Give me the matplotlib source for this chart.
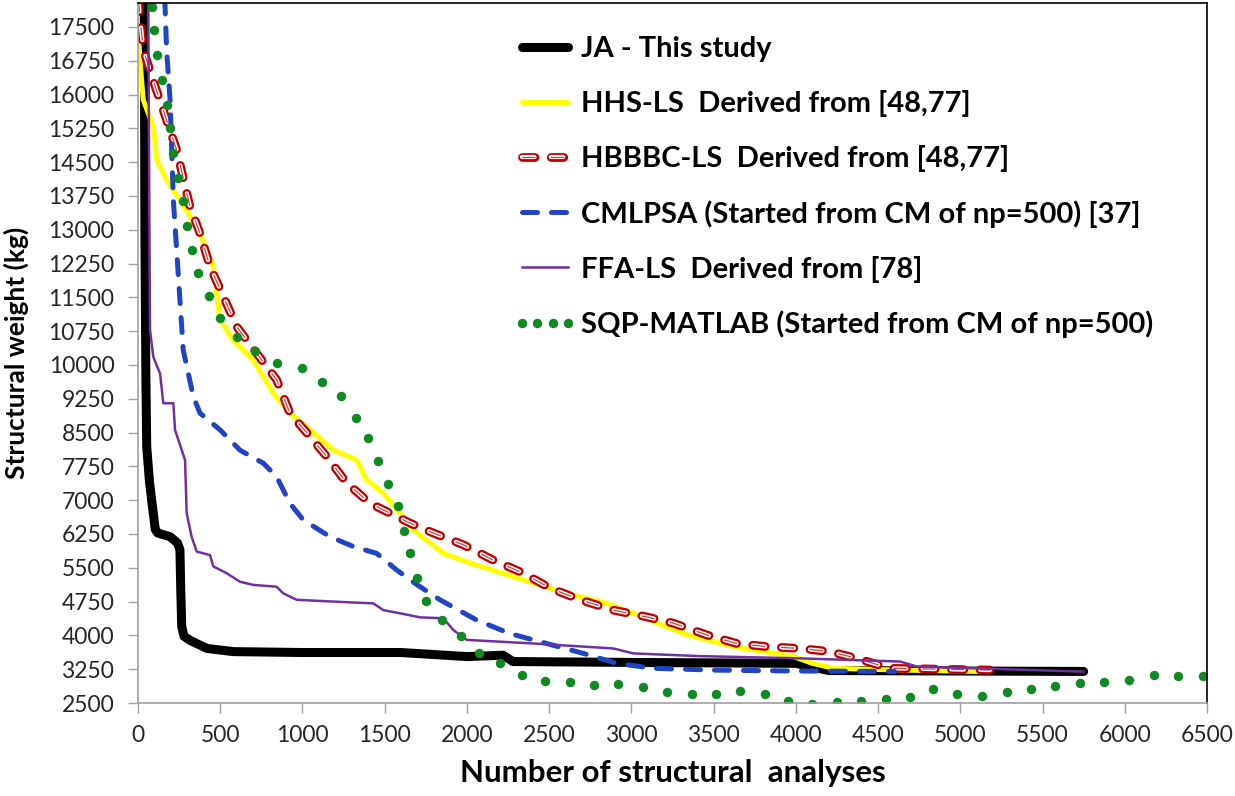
import matplotlib
matplotlib.use('Agg')
import matplotlib.pyplot as plt
import matplotlib.patheffects as pe
import numpy as np

plt.rcParams['font.family'] = ['Lato', 'DejaVu Sans']

# convergence histories (number of analyses, structural weight in kg)
ja_x = [38, 42, 48, 53, 70, 83, 93, 105, 120, 195, 240, 255, 260, 266, 280, 316, 420, 580, 1000,
        1600, 2000, 2220, 2280, 3000, 4000, 4200, 5750]
ja_y = [18500, 13000, 9700, 8190, 7400, 7000, 6710, 6350, 6270, 6190, 6050, 5900, 5000, 4190, 3980,
        3890, 3710, 3640, 3620, 3620, 3530, 3560, 3420, 3400, 3380, 3220, 3200]

hhs_x = [0, 12, 32, 93, 114, 174, 255, 377, 458, 499, 578, 700, 823, 924, 1046, 1188, 1330, 1390,
         1490, 1593, 1674, 1857, 1999, 2282, 2607, 2850, 3012, 3316, 3620, 3985, 4100, 4228, 4633, 5180]
hhs_y = [17500, 16770, 15880, 15290, 14550, 14100, 13660, 12930, 12180, 11000, 10550, 10110, 9370,
         8930, 8560, 8110, 7890, 7450, 7160, 6710, 6340, 5820, 5630, 5300, 4930, 4710, 4490, 4040,
         3750, 3530, 3380, 3270, 3230, 3195]

hbb_x = [0, 12, 32, 93, 154, 235, 316, 377, 438, 519, 600, 721, 843, 924, 1046, 1147, 1269, 1411,
         1654, 1796, 1978, 2160, 2343, 2505, 2688, 2890, 3093, 3255, 3458, 3640, 3823, 4025, 4208,
         4370, 4572, 5180]
hbb_y = [18200, 17720, 17000, 16300, 15650, 14770, 13510, 12920, 12180, 11520, 10850, 10260, 9670,
         8930, 8410, 7970, 7380, 6930, 6490, 6270, 6010, 5670, 5380, 5050, 4790, 4560, 4410, 4270,
         4010, 3820, 3750, 3710, 3640, 3490, 3270, 3230]

cml_x = [150, 164, 174, 195, 205, 215, 235, 255, 275, 336, 377, 499, 620, 762, 843, 924, 1005, 1167,
         1310, 1451, 1573, 1694, 1836, 2059, 2262, 2485, 2708, 2910, 3133, 3500, 4000, 4600]
cml_y = [18500, 18000, 16990, 15880, 14770, 13660, 12550, 11440, 10330, 9300, 8930, 8560, 8110,
         7820, 7520, 6930, 6560, 6190, 5970, 5820, 5450, 5130, 4790, 4340, 4040, 3820, 3600, 3380,
         3270, 3230, 3210, 3200]

ffa_x = [62, 68, 73, 93, 134, 154, 215, 225, 286, 296, 326, 357, 438, 458, 539, 620, 701, 843, 884,
         965, 1188, 1431, 1492, 1593, 1715, 1857, 1917, 1999, 2404, 2890, 3012, 3417, 4025, 4633,
         4735, 5748]
ffa_y = [18500, 14000, 10780, 10180, 9810, 9150, 9150, 8560, 7890, 6710, 6190, 5860, 5780, 5530,
         5380, 5190, 5120, 5080, 4930, 4790, 4750, 4710, 4560, 4490, 4400, 4380, 4120, 3900, 3820,
         3710, 3600, 3540, 3490, 3420, 3310, 3195]

sqp_x = [83, 97, 117, 144, 174, 195, 215, 246, 272, 300, 326, 367, 434, 499, 600, 711, 843, 995,
         1117, 1232, 1326, 1401, 1461, 1522, 1579, 1617, 1654, 1694, 1751, 1846, 1964, 2073, 2201,
         2333, 2475, 2627, 2775, 2921, 3073, 3215, 3367, 3515, 3660, 3812, 3950, 4096, 4248, 4396,
         4546, 4694, 4836, 4982, 5130, 5282, 5428, 5576, 5728, 5874, 6026, 6178, 6326, 6478]
sqp_y = [17950, 17420, 16880, 16320, 15770, 15250, 14700, 14140, 13630, 13080, 12550, 12040, 11530,
         11040, 10630, 10300, 10040, 9930, 9630, 9300, 8830, 8370, 7870, 7350, 6860, 6320, 5820,
         5270, 4770, 4340, 3990, 3620, 3380, 3120, 2990, 2960, 2910, 2920, 2860, 2750, 2700, 2700,
         2770, 2710, 2540, 2480, 2530, 2540, 2590, 2640, 2800, 2690, 2650, 2740, 2800, 2880, 2940,
         2970, 3010, 3120, 3100, 3100]

labels = ['JA - This study',
          'HHS-LS  Derived from [48,77]',
          'HBBBC-LS  Derived from [48,77]',
          'CMLPSA (Started from CM of np=500) [37]',
          'FFA-LS  Derived from [78]',
          'SQP-MATLAB (Started from CM of np=500)']

x_ticks = np.arange(0, 6501, 500)
y_ticks = np.arange(2500, 17501, 750)

fig = plt.figure(figsize=(12.35, 7.96), dpi=100)
ax = fig.add_axes([138 / 1235, 1 - 703 / 796, 1069 / 1235, 700 / 796])

ax.plot(ja_x, ja_y, color='black', lw=6.5, solid_capstyle='round', solid_joinstyle='round',
        label=labels[0])
ax.plot(hhs_x, hhs_y, color='#ffff00', lw=3.6, solid_capstyle='round', label=labels[1])
ax.plot(hbb_x, hbb_y, color='#d04040', lw=0.9, dashes=(10, 13), dash_capstyle='round',
        path_effects=[pe.Stroke(linewidth=6.3, foreground='#c00000'),
                      pe.Stroke(linewidth=3.0, foreground='white'),
                      pe.Normal()],
        label=labels[2])
ax.plot(cml_x, cml_y, color='#1f45c4', lw=3.6, dashes=(3, 2.8), dash_capstyle='round',
        label=labels[3])
ax.plot(ffa_x, ffa_y, color='#7030a0', lw=1.8, label=labels[4])
ax.plot(sqp_x, sqp_y, ls='none', marker='o', ms=6.8, mec='none', color='#0e8a22',
        label=labels[5])

ax.set_xlim(0, 6500)
ax.set_ylim(2500, 18030)
ax.set_xticks(x_ticks)
ax.set_yticks(y_ticks)
ax.tick_params(axis='both', direction='out', length=7, width=1, color='#a0a0a0',
               labelsize=16.5, labelcolor='#262626')
ax.tick_params(axis='y', pad=10)
ax.tick_params(axis='x', pad=9)

for side in ['left', 'bottom']:
    ax.spines[side].set_color('#a0a0a0')
    ax.spines[side].set_linewidth(1.2)
for side in ['top', 'right']:
    ax.spines[side].set_color('black')
    ax.spines[side].set_linewidth(1.2)

ax.set_xlabel('Number of structural  analyses', fontsize=22.5, fontweight='bold', labelpad=9)
ax.set_ylabel('Structural weight (kg)', fontsize=19, fontweight='bold', labelpad=14)

ax.legend(loc='upper left', bbox_to_anchor=(513 / 1235, 1 - 36 / 796),
          bbox_transform=fig.transFigure, frameon=False, borderpad=0, borderaxespad=0,
          handlelength=2.2, handletextpad=0.12, labelspacing=0.96, numpoints=4,
          prop={'size': 21, 'weight': 'bold'})

fig.savefig('out.png', dpi=100)
